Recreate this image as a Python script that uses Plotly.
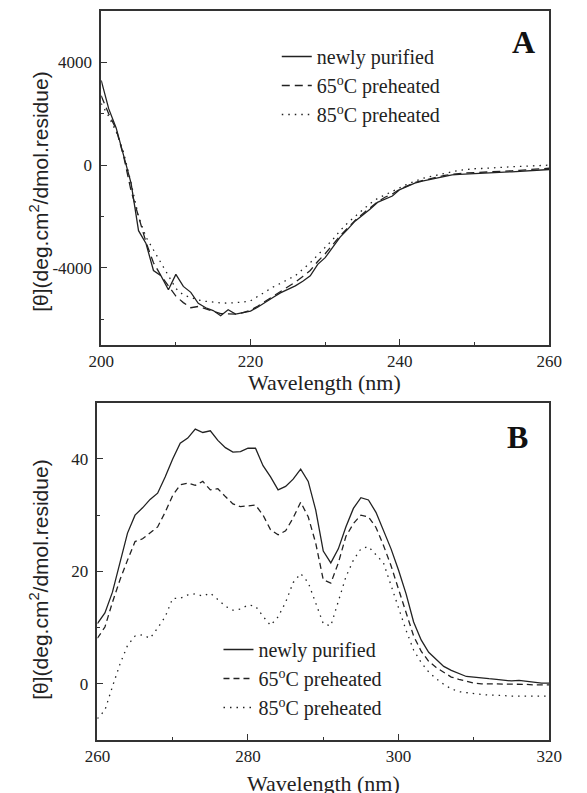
import plotly.graph_objects as go

# ---------------- Panel A data (far-UV CD) ----------------
wl_A = list(range(200, 261))
A_newly = [3300, 2200, 1450, 400, -700, -2550, -3050, -4100, -4300, -4850,
           -4250, -4720, -4950, -5380, -5550, -5660, -5860, -5630, -5800, -5740,
           -5680, -5520, -5350, -5150, -4970, -4850, -4700, -4520, -4310, -3860,
           -3600, -3200, -2800, -2500, -2180, -1950, -1720, -1450, -1320, -1200,
           -950, -820, -700, -620, -560, -500, -430, -380, -360, -340,
           -330, -310, -300, -290, -270, -260, -240, -220, -200, -180, -170]
A_65 = [2700, 2000, 1400, 350, -1000, -2000, -3000, -3800, -4300, -4700,
        -5100, -5350, -5550, -5500, -5600, -5700, -5780, -5790, -5800, -5740,
        -5650, -5480, -5300, -5100, -4920, -4750, -4550, -4330, -4100, -3750,
        -3450, -3100, -2750, -2450, -2150, -1900, -1650, -1430, -1250, -1120,
        -930, -800, -680, -600, -530, -470, -400, -350, -320, -300,
        -290, -280, -270, -250, -240, -220, -200, -180, -160, -140, -120]
A_85 = [2400, 1900, 1300, 500, -700, -2000, -2800, -3300, -3850, -4350,
        -4800, -5050, -5150, -5250, -5300, -5340, -5360, -5370, -5360, -5330,
        -5280, -5100, -4900, -4750, -4600, -4450, -4300, -4050, -3800, -3500,
        -3200, -2900, -2550, -2250, -2000, -1750, -1500, -1300, -1150, -1030,
        -880, -740, -620, -520, -450, -380, -320, -260, -200, -160,
        -140, -130, -120, -100, -80, -60, -50, -40, -30, -20, 0]

# ---------------- Panel B data (near-UV CD) ----------------
wl_B = list(range(260, 321))
B_newly = [10.7, 12.6, 16.3, 21.5, 26.8, 30.0, 31.3, 32.8, 33.9, 36.8,
           40.0, 42.8, 43.7, 45.3, 44.7, 45.0, 43.3, 42.0, 41.2, 41.3,
           41.9, 41.9, 38.8, 36.8, 34.5, 35.1, 36.4, 38.2, 36.0, 30.9,
           23.6, 21.5, 24.0, 27.9, 31.2, 33.1, 32.7, 30.5, 27.4, 24.0,
           20.2, 16.0, 11.0, 7.8, 5.6, 4.3, 3.1, 2.4, 1.8, 1.3,
           1.2, 1.0, 0.9, 0.8, 0.6, 0.5, 0.6, 0.4, 0.3, 0.1, 0.1]
B_65 = [8.1, 10.1, 14.5, 18.5, 22.0, 25.3, 25.8, 26.8, 27.9, 30.5,
        33.5, 35.4, 35.7, 35.3, 36.0, 34.5, 34.7, 33.3, 32.0, 31.5,
        31.7, 31.8, 30.0, 27.4, 26.5, 27.2, 29.5, 32.3, 29.7, 25.0,
        18.5, 17.9, 21.5, 26.2, 28.5, 30.0, 29.7, 27.8, 24.6, 21.0,
        16.8, 12.6, 8.5, 5.8, 4.0, 2.9, 2.0, 1.2, 0.8, 0.5,
        0.1, 0.0, 0.0, -0.1, 0.0, -0.1, 0.0, -0.1, -0.2, -0.2, -0.2]
B_85 = [-6.2, -4.7, -0.5, 3.5, 6.8, 8.5, 8.7, 8.1, 9.9, 11.9,
        15.2, 15.2, 15.8, 16.0, 15.6, 16.1, 15.0, 13.8, 13.1, 13.3,
        14.0, 13.8, 12.0, 10.4, 11.9, 14.5, 18.0, 19.6, 18.0, 14.5,
        10.7, 10.3, 14.5, 19.0, 22.0, 24.0, 24.4, 23.0, 21.5, 17.5,
        13.5, 9.5, 6.0, 3.8, 2.1, 0.9, -0.1, -0.9, -1.4, -1.6,
        -1.8, -1.9, -2.0, -2.0, -2.1, -2.2, -2.2, -2.3, -2.2, -2.2, -2.2]

series_names = ["newly purified", "65<sup>o</sup>C preheated", "85<sup>o</sup>C preheated"]

A_yticks = [-4000, 0, 4000]
A_yticktext = ["-4000", "0", "4000"]
A_xticks = [200, 220, 240, 260]
B_yticks = [0, 20, 40]
B_xticks = [260, 280, 300, 320]

ytitle = "[θ](deg.cm<sup>2</sup>/dmol.residue)"
xtitle = "Wavelength (nm)"

INK = "#222222"
dashes = ["solid", "6px,4px", "1.5px,5px"]
dashesA = ["solid", "8px,5px", "1.5px,5px"]

fig = go.Figure()
for vals, name, d in zip([A_newly, A_65, A_85], series_names, dashesA):
    fig.add_trace(go.Scatter(x=wl_A, y=vals, mode="lines", name=name,
                             line=dict(color=INK, width=1.3, dash=d),
                             xaxis="x", yaxis="y", legend="legend"))
for vals, name, d in zip([B_newly, B_65, B_85], series_names, dashes):
    fig.add_trace(go.Scatter(x=wl_B, y=vals, mode="lines", name=name,
                             line=dict(color=INK, width=1.3, dash=d),
                             xaxis="x2", yaxis="y2", legend="legend2"))

W, H = 587, 793
serif = "Liberation Serif, Times New Roman, Times, DejaVu Serif, serif"
sans = "Liberation Sans, Arial, Helvetica, sans-serif"

axis_common = dict(showline=True, linecolor="#333333", linewidth=1.5, mirror=True,
                   ticks="inside", ticklen=6, tickwidth=1.2, tickcolor="#333333",
                   showgrid=False, zeroline=False,
                   tickfont=dict(family=serif, size=17, color=INK))

fig.update_layout(
    width=W, height=H, margin=dict(l=0, r=0, t=0, b=0),
    paper_bgcolor="white", plot_bgcolor="white",
    font=dict(family=serif, size=17, color=INK),
    xaxis=dict(domain=[92.3 / W, 561 / W], range=[200, 260], anchor="y",
               tickmode="array", tickvals=A_xticks,
               minor=dict(tickmode="linear", tick0=200, dtick=10, ticks="inside", ticklen=3,
                          tickcolor="#333333"),
               **axis_common),
    yaxis=dict(domain=[1 - 345 / H, 1 - 11 / H], range=[-7000, 6000], anchor="x",
               tickmode="array", tickvals=A_yticks, ticktext=A_yticktext,
               ticklabelstandoff=4,
               minor=dict(tickmode="linear", tick0=0, dtick=2000, ticks="inside", ticklen=3,
                          tickcolor="#333333"),
               **axis_common),
    xaxis2=dict(domain=[88.3 / W, 561 / W], range=[260, 320], anchor="y2",
                tickmode="array", tickvals=B_xticks,
                minor=dict(tickmode="linear", tick0=260, dtick=10, ticks="inside", ticklen=3,
                           tickcolor="#333333"),
                **axis_common),
    yaxis2=dict(domain=[1 - 740 / H, 1 - 402.7 / H], range=[-10, 50], anchor="x2",
                tickmode="array", tickvals=B_yticks,
                ticklabelstandoff=4,
                minor=dict(tickmode="linear", tick0=0, dtick=10, ticks="inside", ticklen=3,
                           tickcolor="#333333"),
                **axis_common),
    legend=dict(x=276 / W, y=1 - 37 / H, xanchor="left", yanchor="top",
                bgcolor="rgba(0,0,0,0)", font=dict(family=serif, size=20, color=INK),
                tracegroupgap=0),
    legend2=dict(x=215 / W, y=1 - 630 / H, xanchor="left", yanchor="top",
                 bgcolor="rgba(0,0,0,0)", font=dict(family=serif, size=20, color=INK),
                 tracegroupgap=0),
    showlegend=True,
)

annos = [
    dict(text="<b>A</b>", x=534 / W, y=1 - 42 / H),
    dict(text="<b>B</b>", x=528 / W, y=1 - 437 / H),
    dict(text=xtitle, x=326 / W, y=1 - 382 / H),
    dict(text=xtitle, x=325 / W, y=1 - 783 / H),
    dict(text=ytitle, x=27 / W, y=1 - 192 / H, textangle=-90),
    dict(text=ytitle, x=27 / W, y=1 - 580 / H, textangle=-90),
]
fonts = [dict(family=serif, size=32, color="#111111")] * 2 + \
        [dict(family=serif, size=22, color=INK)] * 2 + \
        [dict(family=sans, size=21, color=INK)] * 2
for a, f in zip(annos, fonts):
    a.update(xref="paper", yref="paper", xanchor="center", yanchor="middle",
             showarrow=False, font=f)
fig.update_layout(annotations=annos)

fig.write_html("out.html")
